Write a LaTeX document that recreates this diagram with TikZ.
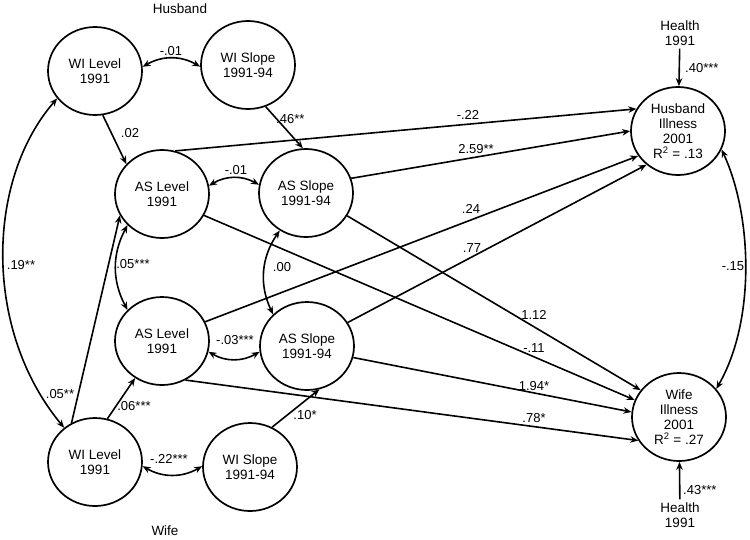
\documentclass[tikz,border=0pt]{standalone}
\usepackage{fontspec}
\setmainfont{Liberation Sans}
\usetikzlibrary{shapes.geometric, arrows.meta, positioning}

\begin{document}
\begin{tikzpicture}[x=1pt, y=-1pt, >={Stealth[length=8pt,width=6.5pt]},
  latent/.style={draw, ellipse, line width=1.7pt, minimum width=94pt, minimum height=88pt,
    inner sep=0pt, align=center, font=\fontsize{13.5}{15}\selectfont},
  obs/.style={align=center, inner sep=3pt, font=\fontsize{13.5}{15}\selectfont},
  coef/.style={inner sep=0pt, font=\fontsize{13}{14}\selectfont},
  eff/.style={->, line width=1.6pt},
  corr/.style={<->, line width=1.6pt}]
\useasboundingbox (0,0) rectangle (750,539);
% Husband block
\node[obs] (hus) at (180,9) {Husband};
\node[latent] (wilh) at (95,71) {WI Level\\1991};
\node[latent] (wish) at (248,65) {WI Slope\\1991-94};
\node[latent] (aslh) at (162,194) {AS Level\\1991};
\node[latent] (assh) at (306,193) {AS Slope\\1991-94};

% Wife block
\node[latent] (aslw) at (162,341) {AS Level\\1991};
\node[latent] (assw) at (307,346) {AS Slope\\1991-94};
\node[latent] (wilw) at (95,462) {WI Level\\1991};
\node[latent] (wisw) at (250,467) {WI Slope\\1991-94};
\node[obs] (wif) at (165,531) {Wife};

% Outcomes
\node[latent] (illh) at (678,131) {Husband\\Illness\\2001\\R\textsuperscript{2} = .13};
\node[latent] (illw) at (679,417) {Wife\\Illness\\2001\\R\textsuperscript{2} = .27};
\node[obs] (hth) at (680,33) {Health\\1991};
\node[obs] (htw) at (680,515) {Health\\1991};

% within-person paths
\draw[corr] (wilh.5) to[bend left=30] (wish.182);
\draw[eff] (wilh.-80) -- (aslh.140);
\draw[eff] (wish.-67) -- (assh.94);
\draw[corr] (aslh.10) to[bend left=30] (assh.170);
\draw[corr] (aslw.-13) to[bend right=30] (assw.-173);
\draw[corr] (wilw.-5) to[bend right=30] (wisw.179);
\draw[eff] (wilw.74) -- (aslw.-126);
\draw[eff] (wilw.121) -- (aslh.-153);
\draw[eff] (wisw.61) -- (assw.-74);
\draw[corr] (aslh.-138) to[bend right=28] (aslw.138);
\draw[corr] (assh.-125) to[bend right=30] (assw.137);
\draw[corr] (wilh.-144) .. controls (-14,180) and (-17,330) .. (wilw.132);

% paths to illness
\draw[eff] (aslh.73) -- (illh.152);
\draw[eff] (assh.18) -- (illh.180);
\draw[eff] (aslw.24) -- (illh.-148);
\draw[eff] (assw.30) -- (illh.-133);
\draw[eff] (assh.-29) -- (illw.145);
\draw[eff] (aslh.-27) -- (illw.159);
\draw[eff] (assw.-14) -- (illw.174);
\draw[eff] (aslw.-59) -- (illw.-150);
\draw[eff] (hth) -- (illh);
\draw[eff] (htw) -- (illw);
\draw[corr] (illh.-23) .. controls (752,215) and (756,320) .. (illw.37);

% coefficients
\node[coef] (c1) at (171,51) {-.01};
\node[coef] (c2) at (130,133) {.02};
\node[coef, anchor=west] (c3) at (276,119) {.46**};
\node[coef] (c4) at (236,170) {-.01};
\node[coef] (c5) at (133,264) {.05***};
\node[coef] (c6) at (282,267) {.00};
\node[coef] (c7) at (235,340) {-.03***};
\node[coef] (c8) at (21,265) {.19**};
\node[coef] (c9) at (60,394) {.05**};
\node[coef] (c10) at (134,406) {.06***};
\node[coef] (c11) at (169,459) {-.22***};
\node[coef] (c12) at (305,415) {.10*};
\node[coef] (c13) at (468,115) {-.22};
\node[coef] (c14) at (476,149) {2.59**};
\node[coef] (c15) at (471,209) {.24};
\node[coef] (c16) at (472,248) {.77};
\node[coef] (c17) at (534,315) {1.12};
\node[coef] (c18) at (534,348) {-.11};
\node[coef] (c19) at (534,386) {1.94*};
\node[coef] (c20) at (534,418) {.78*};
\node[coef, anchor=west] (c21) at (685,68) {.40***};
\node[coef, anchor=west] (c22) at (683,490) {.43***};
\node[coef] (c23) at (733,266) {-.15};
\end{tikzpicture}
\end{document}
